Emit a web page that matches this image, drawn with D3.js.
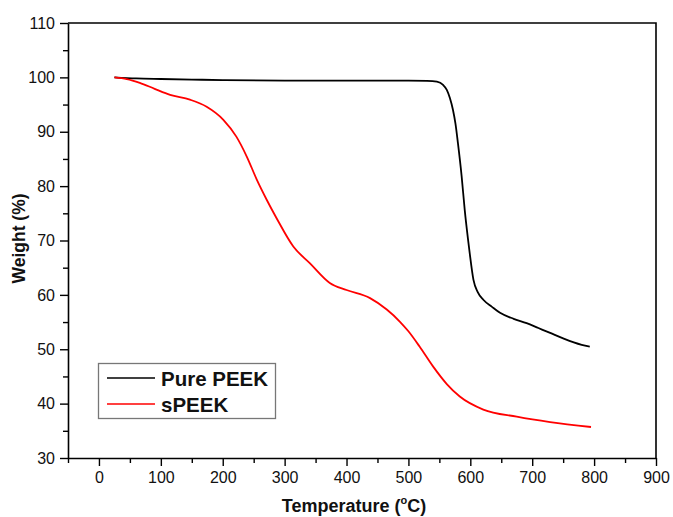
<!DOCTYPE html>
<html>
<head>
<meta charset="utf-8">
<script src="https://cdn.jsdelivr.net/npm/d3@7"></script>
<style>
  html, body { margin: 0; padding: 0; background: #fff; }
  svg { display: block; font-family: "Liberation Sans", Arial, sans-serif; }
</style>
</head>
<body>
<svg id="chart" width="673" height="517"></svg>
<script>
// Pure PEEK TGA curve
const peekTemp = [25, 60, 100, 150, 200, 300, 400, 500, 530, 546, 556, 562, 567, 572, 576, 580, 586, 591, 596, 599, 605, 612, 621, 635, 648, 670, 691, 710, 729, 750, 766, 780, 793];
const peekWeight = [100, 99.8, 99.7, 99.6, 99.5, 99.4, 99.4, 99.4, 99.35, 99.2, 98.6, 97.7, 96.2, 94.0, 91.5, 87.9, 81.8, 75.6, 70.5, 67.7, 62.8, 60.5, 59.1, 57.8, 56.7, 55.6, 54.8, 53.9, 53.0, 52.0, 51.3, 50.8, 50.5];

// sPEEK TGA curve
const speekTemp = [25, 45, 66, 90, 115, 147, 174, 201, 222, 239, 255, 271, 287, 314, 341, 373, 400, 438, 465, 486, 500, 518, 540, 562, 583, 621, 675, 729, 795];
const speekWeight = [100, 99.7, 99.0, 97.9, 96.8, 95.9, 94.6, 92.2, 89.1, 85.4, 81.2, 77.5, 74.1, 68.9, 65.8, 62.2, 60.9, 59.4, 57.3, 55.1, 53.3, 50.5, 46.8, 43.6, 41.3, 38.9, 37.6, 36.6, 35.7];

const seriesNames = ["Pure PEEK", "sPEEK"];
const seriesColors = ["#000000", "#ff0000"];

const xTicks = [0, 100, 200, 300, 400, 500, 600, 700, 800, 900];
const xMinorTicks = [-50, 50, 150, 250, 350, 450, 550, 650, 750, 850];
const yTicks = [30, 40, 50, 60, 70, 80, 90, 100, 110];
const yMinorTicks = [35, 45, 55, 65, 75, 85, 95, 105];

const width = 673, height = 517;
const margin = { top: 23, right: 17, bottom: 59, left: 68 };

const svg = d3.select("#chart");

const x = d3.scaleLinear().domain([-50, 900]).range([margin.left, width - margin.right]);
const y = d3.scaleLinear().domain([30, 110]).range([height - margin.bottom, margin.top]);

const series = [
  peekTemp.map((t, i) => ({ t: t, w: peekWeight[i] })),
  speekTemp.map((t, i) => ({ t: t, w: speekWeight[i] }))
];

// frame (top and right, no ticks)
svg.append("path")
  .attr("d", `M${x(-50)},${y(110)}H${x(900)}V${y(30)}`)
  .attr("fill", "none")
  .attr("stroke", "#000")
  .attr("stroke-width", 1.6);

// bottom axis
svg.append("g")
  .attr("transform", `translate(0,${y(30)})`)
  .call(d3.axisBottom(x).tickValues(xTicks).tickSize(8).tickPadding(6).tickSizeOuter(0));
svg.append("g")
  .attr("transform", `translate(0,${y(30)})`)
  .call(d3.axisBottom(x).tickValues(xMinorTicks).tickSize(5).tickFormat("").tickSizeOuter(0))
  .select(".domain").remove();

// left axis
svg.append("g")
  .attr("transform", `translate(${x(-50)},0)`)
  .call(d3.axisLeft(y).tickValues(yTicks).tickSize(8).tickPadding(5).tickSizeOuter(0));
svg.append("g")
  .attr("transform", `translate(${x(-50)},0)`)
  .call(d3.axisLeft(y).tickValues(yMinorTicks).tickSize(5).tickFormat("").tickSizeOuter(0))
  .select(".domain").remove();

svg.selectAll(".domain").attr("stroke", "#000").attr("stroke-width", 1.6);
svg.selectAll(".tick line").attr("stroke", "#000").attr("stroke-width", 1.4);
svg.selectAll(".tick text")
  .attr("font-family", "Liberation Sans, Arial, sans-serif")
  .attr("font-size", "16px")
  .attr("fill", "#111");

// curves
const line = d3.line()
  .x((d) => x(d.t))
  .y((d) => y(d.w))
  .curve(d3.curveMonotoneX);

svg.selectAll(".curve")
  .data(series)
  .enter()
  .append("path")
  .attr("class", "curve")
  .attr("fill", "none")
  .attr("stroke", (d, i) => seriesColors[i])
  .attr("stroke-width", 1.8)
  .attr("d", line);

// axis titles
const xTitle = svg.append("text")
  .attr("x", 354)
  .attr("y", 512)
  .attr("text-anchor", "middle")
  .attr("font-size", "18px")
  .attr("font-weight", "bold")
  .attr("fill", "#111");
xTitle.append("tspan").text("Temperature (");
xTitle.append("tspan").attr("font-size", "11px").attr("dy", -8).text("o");
xTitle.append("tspan").attr("dy", 8).text("C)");

svg.append("text")
  .attr("transform", `translate(25,${(y(30) + y(110)) / 2 - 2}) rotate(-90)`)
  .attr("text-anchor", "middle")
  .attr("font-size", "17.5px")
  .attr("font-weight", "bold")
  .attr("fill", "#111")
  .text("Weight (%)");

// legend
const legend = svg.append("g");
legend.append("rect")
  .attr("x", 98.5)
  .attr("y", 363.5)
  .attr("width", 177)
  .attr("height", 55)
  .attr("fill", "#fff")
  .attr("stroke", "#777")
  .attr("stroke-width", 1.3);

seriesNames.forEach((name, i) => {
  const ly = 378 + i * 26;
  legend.append("line")
    .attr("x1", 107).attr("x2", 155)
    .attr("y1", ly).attr("y2", ly)
    .attr("stroke", seriesColors[i])
    .attr("stroke-width", 1.6);
  legend.append("text")
    .attr("x", 161)
    .attr("y", ly + 7.5)
    .attr("font-size", "20.5px")
    .attr("font-weight", "bold")
    .attr("fill", "#111")
    .text(name);
});
</script>
</body>
</html>
